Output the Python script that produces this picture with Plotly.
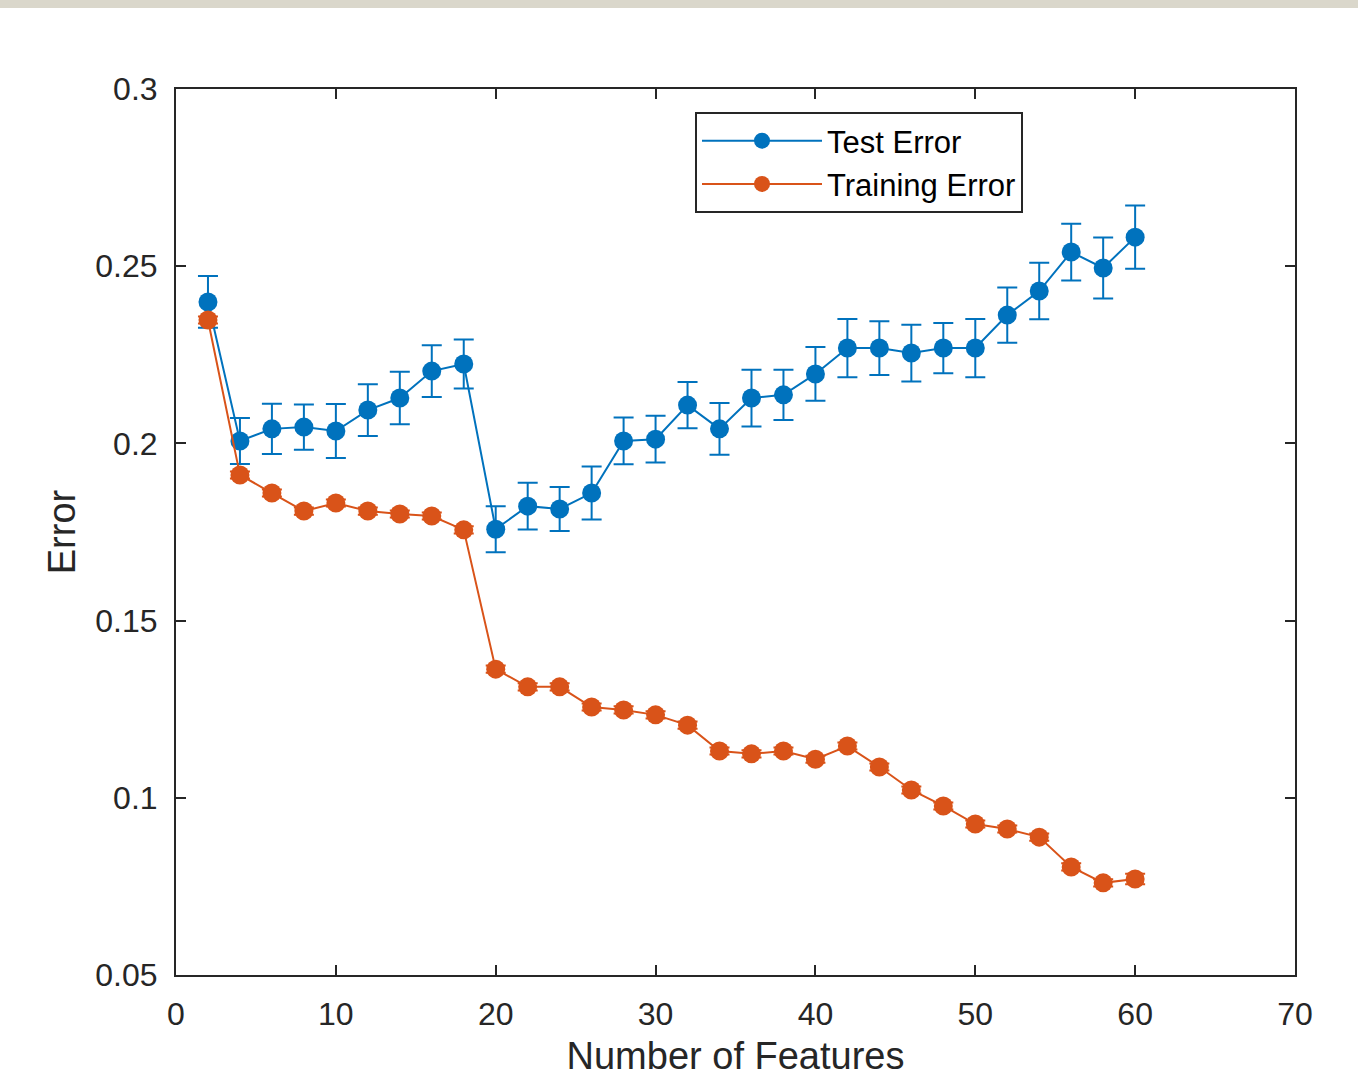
import plotly.graph_objects as go

features = list(range(2, 62, 2))
test_error = [0.2399, 0.2007, 0.2041, 0.2046, 0.2035, 0.2094, 0.2128, 0.2204, 0.2224,
              0.1758, 0.1823, 0.1815, 0.1860, 0.2007, 0.2012, 0.2108, 0.2041, 0.2128,
              0.2137, 0.2196, 0.2269, 0.2269, 0.2255, 0.2269, 0.2269, 0.2362, 0.2430,
              0.2540, 0.2495, 0.2582]
test_std = [0.0073, 0.0065, 0.0071, 0.0064, 0.0076, 0.0073, 0.0074, 0.0073, 0.0069,
            0.0065, 0.0066, 0.0062, 0.0075, 0.0066, 0.0066, 0.0065, 0.0073, 0.0080,
            0.0071, 0.0076, 0.0082, 0.0076, 0.0080, 0.0071, 0.0082, 0.0078, 0.0080,
            0.0080, 0.0086, 0.0089]
train_error = [0.2348, 0.1911, 0.1860, 0.1809, 0.1832, 0.1809, 0.1801, 0.1795, 0.1756,
               0.1363, 0.1313, 0.1313, 0.1256, 0.1248, 0.1234, 0.1205, 0.1132, 0.1124,
               0.1132, 0.1109, 0.1146, 0.1087, 0.1022, 0.0977, 0.0926, 0.0912, 0.0889,
               0.0805, 0.0760, 0.0771]
train_std = [0.0010] * 28 + [0.0010, 0.0015]

y_ticks = [0.05, 0.1, 0.15, 0.2, 0.25, 0.3]
y_tick_labels = ["0.05", "0.1", "0.15", "0.2", "0.25", "0.3"]
x_ticks = [0, 10, 20, 30, 40, 50, 60, 70]

BLUE = "#0072BD"
ORANGE = "#D95319"
AX = "#262626"
FONT = "Liberation Sans, Arial, Helvetica, sans-serif"

fig = go.Figure()
fig.add_trace(go.Scatter(
    x=features, y=test_error, name="Test Error", mode="lines+markers",
    line=dict(color=BLUE, width=2),
    marker=dict(color=BLUE, size=19, symbol="circle"),
    error_y=dict(type="data", array=test_std, visible=True, color=BLUE, thickness=2, width=10),
))
fig.add_trace(go.Scatter(
    x=features, y=train_error, name="Training Error", mode="lines+markers",
    line=dict(color=ORANGE, width=2),
    marker=dict(color=ORANGE, size=19, symbol="circle"),
    error_y=dict(type="data", array=train_std, visible=True, color=ORANGE, thickness=2, width=10),
))

W, H = 1358, 1077
L, R, T, B = 176, 63, 89, 102
pw = W - L - R
ph = H - T - B

fig.update_layout(
    width=W, height=H,
    margin=dict(l=L, r=R, t=T, b=B, autoexpand=False),
    paper_bgcolor="white", plot_bgcolor="white",
    font=dict(family=FONT, size=30, color=AX),
    showlegend=True,
    legend=dict(
        x=(695 - L) / pw, y=(H - B - 112) / ph, xanchor="left", yanchor="top",
        bordercolor=AX, borderwidth=2, bgcolor="white",
        font=dict(family=FONT, size=31, color="black"),
        tracegroupgap=0, itemwidth=120,
    ),
    xaxis=dict(
        range=[0, 70], tickvals=x_ticks, ticks="inside", ticklen=10, tickwidth=1.5,
        tickcolor=AX, showline=True, linecolor=AX, linewidth=2, mirror="ticks",
        showgrid=False, zeroline=False, tickfont=dict(size=32, color=AX),
        ticklabelstandoff=10,
        title=dict(text="Number of Features", font=dict(size=38, color=AX), standoff=18),
        automargin=False,
    ),
    yaxis=dict(
        range=[0.05, 0.3], tickvals=y_ticks, ticktext=y_tick_labels, ticks="inside",
        ticklen=10, tickwidth=1.5, tickcolor=AX, showline=True, linecolor=AX, linewidth=2,
        mirror="ticks", showgrid=False, zeroline=False, tickfont=dict(size=32, color=AX),
        ticklabelstandoff=10,
        title=dict(text="Error", font=dict(size=38, color=AX), standoff=8),
        automargin=False,
    ),
    shapes=[dict(
        type="rect", xref="paper", yref="paper",
        x0=-L / pw, x1=(W - L) / pw, y0=(H - B - 8) / ph, y1=(H - B + 2) / ph,
        fillcolor="#DAD7CB", line=dict(width=0), layer="above",
    )],
)

fig.write_html("out.html")
